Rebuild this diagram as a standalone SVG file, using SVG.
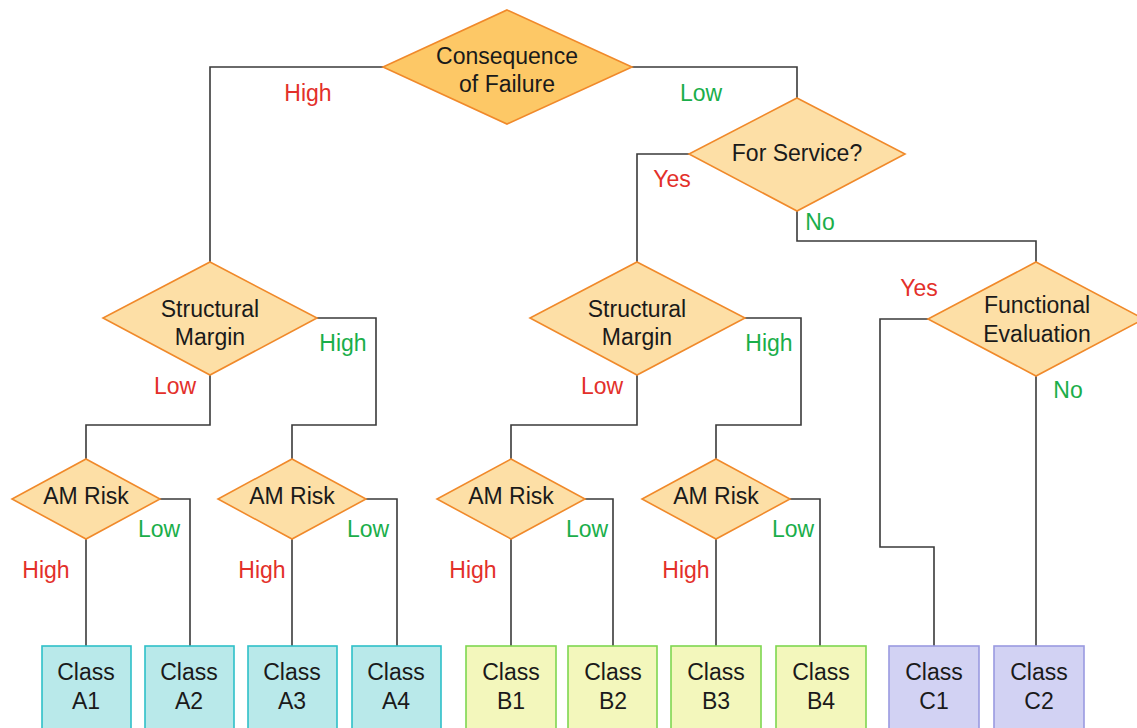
<svg xmlns="http://www.w3.org/2000/svg" width="1137" height="728" viewBox="0 0 1137 728">
<style>
text{font-family:"Liberation Sans",Arial,sans-serif;font-size:23px;text-anchor:middle;fill:#1a1a1a}
.dia{fill:#FDDFA6;stroke:#F0892A;stroke-width:1.6}
.top{fill:#FDC866}
.con{fill:none;stroke:#3a3a3a;stroke-width:1.6}
.r{fill:#E3302A}
.g{fill:#1AAE4A}
.ba{fill:#B9E9EA;stroke:#2EC0C8;stroke-width:1.6}
.bb{fill:#F3F7BC;stroke:#7ED650;stroke-width:1.6}
.bc{fill:#D2D2F3;stroke:#9A9AE0;stroke-width:1.6}
</style>
<rect width="1137" height="728" fill="#fff"/>
<g id="connectors">
<path class="con" d="M383,67 H210 V262"/>
<path class="con" d="M632,67 H797 V98"/>
<path class="con" d="M689,154 H637 V262"/>
<path class="con" d="M797,211 V241 H1036 V262"/>
<path class="con" d="M928,319 H880 V547 H934 V646"/>
<path class="con" d="M1036,376 V646"/>
<path class="con" d="M210,375 V425 H86 V459"/>
<path class="con" d="M317,318 H376 V425 H292 V459"/>
<path class="con" d="M637,375 V425 H511 V459"/>
<path class="con" d="M745,318 H801 V425 H716 V459"/>
<path class="con" d="M86,539 V646"/>
<path class="con" d="M160,499 H190 V646"/>
<path class="con" d="M292,539 V646"/>
<path class="con" d="M366,499 H397 V646"/>
<path class="con" d="M511,539 V646"/>
<path class="con" d="M585,499 H613 V646"/>
<path class="con" d="M716,539 V646"/>
<path class="con" d="M790,499 H820 V646"/>
</g>
<g id="labels">
<text class="r" x="308" y="101">High</text>
<text class="g" x="701" y="101">Low</text>
<text class="r" x="672" y="187">Yes</text>
<text class="g" x="820" y="230">No</text>
<text class="g" x="343" y="351">High</text>
<text class="r" x="175" y="394">Low</text>
<text class="g" x="769" y="351">High</text>
<text class="r" x="602" y="394">Low</text>
<text class="r" x="919" y="296">Yes</text>
<text class="g" x="1068" y="398">No</text>
<text class="r" x="46" y="578">High</text>
<text class="g" x="159" y="537">Low</text>
<text class="r" x="262" y="578">High</text>
<text class="g" x="368" y="537">Low</text>
<text class="r" x="473" y="578">High</text>
<text class="g" x="587" y="537">Low</text>
<text class="r" x="686" y="578">High</text>
<text class="g" x="793" y="537">Low</text>
</g>
<g id="consequence"><polygon class="dia top" points="507,10 632,67 507,124 383,67"/><text x="507" y="64">Consequence</text><text x="507" y="92">of Failure</text></g>
<g id="service"><polygon class="dia" points="797,98 905,154 797,211 689,154"/><text x="797" y="161">For Service?</text></g>
<g id="sm1"><polygon class="dia" points="210,262 317,318 210,375 103,318"/><text x="210" y="317">Structural</text><text x="210" y="345">Margin</text></g>
<g id="sm2"><polygon class="dia" points="637,262 745,318 637,375 530,318"/><text x="637" y="317">Structural</text><text x="637" y="345">Margin</text></g>
<g id="fe"><polygon class="dia" points="1036,262 1144,319 1036,376 928,319"/><text x="1037" y="313">Functional</text><text x="1037" y="342">Evaluation</text></g>
<g id="am1"><polygon class="dia" points="86,459 160,499 86,539 12,499"/><text x="86" y="504">AM Risk</text></g>
<g id="am2"><polygon class="dia" points="292,459 366,499 292,539 218,499"/><text x="292" y="504">AM Risk</text></g>
<g id="am3"><polygon class="dia" points="511,459 585,499 511,539 437,499"/><text x="511" y="504">AM Risk</text></g>
<g id="am4"><polygon class="dia" points="716,459 790,499 716,539 642,499"/><text x="716" y="504">AM Risk</text></g>
<g id="a1"><rect class="ba" x="42" y="646" width="89" height="86"/><text x="86" y="680">Class</text><text x="86" y="709">A1</text></g>
<g id="a2"><rect class="ba" x="145" y="646" width="89" height="86"/><text x="189" y="680">Class</text><text x="189" y="709">A2</text></g>
<g id="a3"><rect class="ba" x="248" y="646" width="89" height="86"/><text x="292" y="680">Class</text><text x="292" y="709">A3</text></g>
<g id="a4"><rect class="ba" x="352" y="646" width="89" height="86"/><text x="396" y="680">Class</text><text x="396" y="709">A4</text></g>
<g id="b1"><rect class="bb" x="466" y="646" width="90" height="86"/><text x="511" y="680">Class</text><text x="511" y="709">B1</text></g>
<g id="b2"><rect class="bb" x="568" y="646" width="89" height="86"/><text x="613" y="680">Class</text><text x="613" y="709">B2</text></g>
<g id="b3"><rect class="bb" x="671" y="646" width="90" height="86"/><text x="716" y="680">Class</text><text x="716" y="709">B3</text></g>
<g id="b4"><rect class="bb" x="776" y="646" width="90" height="86"/><text x="821" y="680">Class</text><text x="821" y="709">B4</text></g>
<g id="c1"><rect class="bc" x="889" y="646" width="90" height="86"/><text x="934" y="680">Class</text><text x="934" y="709">C1</text></g>
<g id="c2"><rect class="bc" x="994" y="646" width="90" height="86"/><text x="1039" y="680">Class</text><text x="1039" y="709">C2</text></g>
</svg>
